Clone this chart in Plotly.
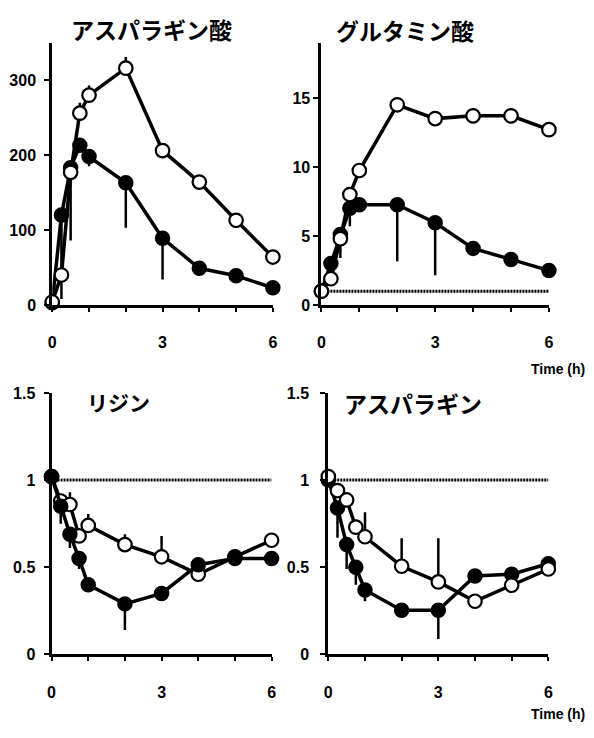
import plotly.graph_objects as go

W, H = 594, 738

times = [0, 0.25, 0.5, 0.75, 1, 2, 3, 4, 5, 6]

# アスパラギン酸
asp_filled = [3, 120, 183, 213, 198, 163, 89, 49, 39, 23]
asp_filled_err = [0, 112, 97, 0, 13, 60, 55, 0, 0, 0]
asp_open = [4, 40, 177, 256, 280, 316, 206, 164, 113, 64]
asp_open_err = [0, 0, 0, 14, 13, 15, 0, 0, 0, 0]

# グルタミン酸
glu_filled = [1.0, 3.0, 5.1, 7.0, 7.26, 7.26, 5.96, 4.1, 3.3, 2.5]
glu_filled_err = [0, 0.4, 1.7, 1.3, 0, 4.1, 3.8, 0, 0, 0]
glu_open = [1.0, 1.9, 4.8, 8.0, 9.74, 14.5, 13.5, 13.7, 13.7, 12.7]
glu_open_err = [0, 0, 0, 0, 0, 0.3, 0, 0, 0, 0]

# リジン
lys_filled = [1.02, 0.85, 0.69, 0.55, 0.40, 0.29, 0.35, 0.515, 0.55, 0.55]
lys_filled_err = [0, 0.1, 0.08, 0.06, 0, 0.15, 0, 0, 0, 0]
lys_open = [1.02, 0.88, 0.86, 0.68, 0.74, 0.63, 0.56, 0.46, 0.56, 0.655]
lys_open_err = [0, 0, 0.07, 0, 0.065, 0.06, 0.12, 0, 0, 0]

# アスパラギン
asn_filled = [1.0, 0.84, 0.63, 0.50, 0.37, 0.253, 0.253, 0.45, 0.46, 0.52]
asn_filled_err = [0, 0.17, 0.14, 0.1, 0.065, 0, 0.165, 0, 0, 0]
asn_open = [1.02, 0.94, 0.886, 0.73, 0.675, 0.506, 0.416, 0.305, 0.397, 0.49]
asn_open_err = [0, 0, 0, 0, 0.14, 0.16, 0.25, 0, 0, 0]

titles = ["アスパラギン酸", "グルタミン酸", "リジン", "アスパラギン"]
x_ticks = [0, 1, 2, 3, 4, 5, 6]
x_ticklabels = ["0", "", "", "3", "", "", "6"]
ref_x = [0, 6]
ref_y = [1, 1]


def px_x(p):
    return p / W


def px_y(p):
    return (H - p) / H


panels = [
    dict(filled=asp_filled, ferr=asp_filled_err, open=asp_open, oerr=asp_open_err,
         yrange=[0, 350], yticks=[0, 100, 200, 300], yticklabels=["0", "100", "200", "300"],
         xdom=(49, 273), ydom=(304, 35.5), ref=False, open_top=True, ystand=5),
    dict(filled=glu_filled, ferr=glu_filled_err, open=glu_open, oerr=glu_open_err,
         yrange=[0, 19], yticks=[0, 5, 10, 15], yticklabels=["0", "5", "10", "15"],
         xdom=(322.3, 553.3), ydom=(304, 35.5), ref=True, open_top=True, ystand=0),
    dict(filled=lys_filled, ferr=lys_filled_err, open=lys_open, oerr=lys_open_err,
         yrange=[0, 1.5], yticks=[0, 0.5, 1, 1.5], yticklabels=["0", "0.5", "1", "1.5"],
         xdom=(48.3, 271.7), ydom=(661.7, 394), ref=True, open_top=False, ystand=5),
    dict(filled=asn_filled, ferr=asn_filled_err, open=asn_open, oerr=asn_open_err,
         yrange=[0, 1.5], yticks=[0, 0.5, 1, 1.5], yticklabels=["0", "0.5", "1", "1.5"],
         xdom=(329.3, 552.7), ydom=(661.7, 394), ref=True, open_top=True, ystand=8),
]

fig = go.Figure()
tickfont = dict(family="Liberation Sans, Arial", size=16, color="black", weight="bold")

for i, p in enumerate(panels):
    k = "" if i == 0 else str(i + 1)
    xa, ya = "x" + k, "y" + k
    if p["ref"]:
        fig.add_trace(go.Scatter(x=ref_x, y=ref_y, mode="lines", xaxis=xa, yaxis=ya,
                                 line=dict(color="black", width=3, dash="2px,1px"),
                                 showlegend=False, hoverinfo="skip", cliponaxis=False))
    filled_tr = go.Scatter(
        x=times, y=p["filled"], mode="lines+markers", xaxis=xa, yaxis=ya, showlegend=False,
        line=dict(color="black", width=3.5),
        marker=dict(size=13.5, color="black", line=dict(color="black", width=2)),
        error_y=dict(type="data", symmetric=False, array=[0] * len(times), arrayminus=p["ferr"],
                     color="black", thickness=2.5, width=0),
        cliponaxis=False, hoverinfo="skip")
    open_tr = go.Scatter(
        x=times, y=p["open"], mode="lines+markers", xaxis=xa, yaxis=ya, showlegend=False,
        line=dict(color="black", width=3.5),
        marker=dict(size=13.5, color="white", line=dict(color="black", width=2.2)),
        error_y=dict(type="data", symmetric=False, array=p["oerr"], arrayminus=[0] * len(times),
                     color="black", thickness=2.5, width=0),
        cliponaxis=False, hoverinfo="skip")
    if p["open_top"]:
        fig.add_trace(filled_tr)
        fig.add_trace(open_tr)
    else:
        fig.add_trace(open_tr)
        fig.add_trace(filled_tr)

    x0, x1 = p["xdom"]
    yb, yt = p["ydom"]
    fig.update_layout(**{
        "xaxis" + k: dict(domain=[px_x(x0), px_x(x1)], range=[0, 6], anchor=ya,
                          showline=True, linecolor="black", linewidth=3, showgrid=False,
                          zeroline=False, ticks="outside", ticklen=4, tickwidth=2,
                          tickcolor="black", tickvals=x_ticks, ticktext=x_ticklabels,
                          tickfont=tickfont, ticklabelstandoff=17, fixedrange=True),
        "yaxis" + k: dict(domain=[px_y(yb), px_y(yt)], range=p["yrange"], anchor=xa,
                          showline=True, linecolor="black", linewidth=3, showgrid=False,
                          zeroline=False, ticks="outside", ticklen=5, tickwidth=2,
                          tickcolor="black", tickvals=p["yticks"], ticktext=p["yticklabels"],
                          tickfont=tickfont, ticklabelstandoff=p["ystand"], fixedrange=True),
    })

jp_font = dict(family="Noto Sans CJK JP", color="black", weight="bold")
title_pos = [(150, 22, 23), (407, 23, 23), (116, 403, 21), (415, 404, 23)]
annotations = []
for t, (cx, cy, fs) in zip(titles, title_pos):
    annotations.append(dict(text=t, x=px_x(cx), y=px_y(cy), xref="paper", yref="paper",
                            showarrow=False, xanchor="center", yanchor="middle",
                            font=dict(size=fs, **jp_font)))
for cy in (369, 723):
    annotations.append(dict(text="Time (h)", x=px_x(592), y=px_y(cy), xref="paper",
                            yref="paper", showarrow=False, xanchor="right", yanchor="middle",
                            font=dict(family="Liberation Sans, Arial", size=14, color="black",
                                      weight="bold")))

fig.update_layout(width=W, height=H, margin=dict(l=0, r=0, t=0, b=0),
                  paper_bgcolor="white", plot_bgcolor="white", hovermode=False,
                  annotations=annotations, showlegend=False)

fig.write_html("out.html", config={"displayModeBar": False},
               post_script="document.body.style.margin='0';"
                           "document.body.style.overflow='hidden';")
